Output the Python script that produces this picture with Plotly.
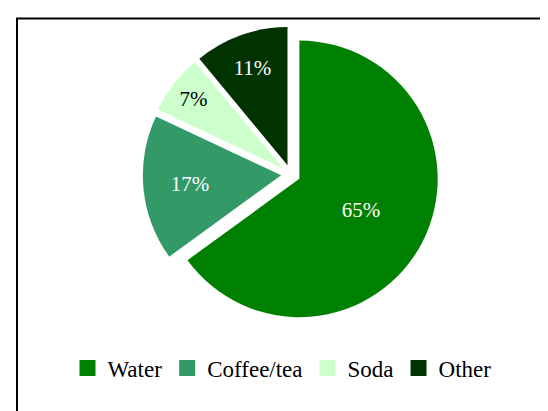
import plotly.graph_objects as go

categories = ["Water", "Coffee/tea", "Soda", "Other"]
values = [65, 17, 7, 11]
colors = ["#008000", "#339966", "#CCFFCC", "#003300"]
text_colors = ["white", "white", "black", "white"]

fig = go.Figure()
fig.add_trace(go.Pie(
    labels=categories,
    values=values,
    sort=False,
    direction="clockwise",
    rotation=0,
    pull=[0.07] * len(values),
    marker=dict(colors=colors, line=dict(width=0)),
    texttemplate="%{percent:.0%}",
    textposition="inside",
    insidetextorientation="horizontal",
    textfont=dict(family="Liberation Serif", size=21, color=text_colors),
    domain=dict(x=[0.246, 0.786], y=[0.235, 0.955]),
    hoverinfo="label+percent",
    showlegend=False,
))

# legend entries (square swatches)
for name, col in zip(categories, colors):
    fig.add_trace(go.Scatter(
        x=[None], y=[None], mode="markers", name=name,
        marker=dict(symbol="square", size=16, color=col),
        showlegend=True,
    ))

fig.update_layout(
    width=548, height=411,
    margin=dict(l=0, r=0, t=0, b=0),
    paper_bgcolor="white",
    plot_bgcolor="white",
    font=dict(family="Liberation Serif", size=23, color="black"),
    xaxis=dict(visible=False),
    yaxis=dict(visible=False),
    showlegend=True,
    legend=dict(
        orientation="h",
        x=0.5, xanchor="center",
        y=0.124, yanchor="middle",
        font=dict(family="Liberation Serif", size=23, color="black"),
        itemwidth=30,
        traceorder="normal",
        tracegroupgap=0,
    ),
    shapes=[dict(
        type="rect", xref="paper", yref="paper",
        x0=9 / 548, x1=1.2, y0=-0.2, y1=1 - 10.5 / 411,
        line=dict(color="black", width=2),
        fillcolor="rgba(0,0,0,0)",
    )],
)

fig.write_html("out.html")
